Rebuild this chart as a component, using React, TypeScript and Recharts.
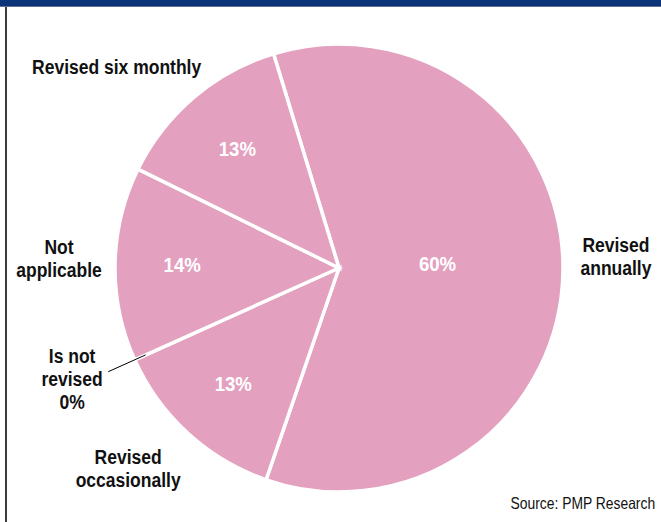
import { Cell, Pie, PieChart } from 'recharts';

const categories = [
  'Revised annually',
  'Revised occasionally',
  'Is not revised',
  'Not applicable',
  'Revised six monthly',
];
const shares = [60, 13, 0, 14, 13];
const valueLabels = ['60%', '13%', '0%', '14%', '13%'];
const displayNames = [
  ['Revised', 'annually'],
  ['Revised', 'occasionally'],
  ['Is not', 'revised'],
  ['Not', 'applicable'],
  ['Revised six monthly'],
];

const FONT = "'Liberation Sans', Arial, sans-serif";
const PINK = '#e3a0bf';
const RADIAN = Math.PI / 180;
// no narrow font available, so squeeze Liberation Sans horizontally
const SQUEEZE = 0.875;

// hand-tuned offsets so the outer labels sit where the original puts them
const nudge: Record<string, [number, number]> = {
  'Revised annually': [-9, -16],
  'Revised occasionally': [-18, -11],
  'Is not revised': [-6, -6],
  'Not applicable': [6, -5],
  'Revised six monthly': [-37, 17],
};

const pieData = categories.map((name, i) => ({
  name,
  value: shares[i],
  pct: valueLabels[i],
  lines: displayNames[i],
}));

function renderLabel(props: any) {
  const { cx, cy, midAngle, outerRadius, percent, payload, index } = props;
  const row = payload && payload.lines ? payload : pieData[index];
  const cos = Math.cos(-midAngle * RADIAN);
  const sin = Math.sin(-midAngle * RADIAN);
  const lh = 23;

  const outR = outerRadius + 62;
  const [nx, ny] = nudge[row.name] || [0, 0];
  const ox = cx + outR * cos + nx;
  const oy = cy + outR * sin + ny;
  const lines: string[] = row.value === 0 ? [...row.lines, row.pct] : row.lines;
  const y0 = oy - ((lines.length - 1) * lh) / 2 + 7;

  const big = percent > 0.5;
  const inR = big ? outerRadius * 0.44 : outerRadius * 0.7;
  const ix = cx + inR * cos;
  const iy = cy + inR * sin + (big ? -6 : 0);

  return (
    <g key={`lbl-${index}`}>
      {row.value > 0 && (
        <text
          transform={`translate(${ix},${iy + 7}) scale(0.93,1)`}
          x={0}
          y={0}
          textAnchor="middle"
          fill="#ffffff"
          fontFamily={FONT}
          fontWeight="bold"
          fontSize={20}
        >
          {row.pct}
        </text>
      )}
      {row.value === 0 && (
        <line
          x1={cx + (outerRadius - 12) * cos}
          y1={cy + (outerRadius - 12) * sin}
          x2={cx + (outerRadius + 29) * cos}
          y2={cy + (outerRadius + 29) * sin}
          stroke="#000"
          strokeWidth={1}
        />
      )}
      <text
        transform={`translate(${ox},${y0}) scale(${SQUEEZE},1)`}
        x={0}
        y={0}
        textAnchor="middle"
        fill="#111"
        fontFamily={FONT}
        fontWeight="bold"
        fontSize={20}
      >
        {lines.map((l, k) => (
          <tspan key={k} x={0} dy={k === 0 ? 0 : lh}>
            {l}
          </tspan>
        ))}
      </text>
    </g>
  );
}

export default function App() {
  return (
    <div
      style={{
        position: 'absolute',
        left: 0,
        top: 0,
        width: 661,
        height: 522,
        background: '#fff',
        overflow: 'hidden',
      }}
    >
      <div style={{ position: 'absolute', left: 0, top: 0, width: 661, height: 6, background: '#0a3379' }} />
      <div style={{ position: 'absolute', left: 0, top: 6, width: 661, height: 1, background: '#5b6f96' }} />
      <div style={{ position: 'absolute', left: 5, top: 7, width: 2, height: 515, background: '#3c3c3c' }} />
      <PieChart width={661} height={522} margin={{ top: 0, right: 0, bottom: 0, left: 0 }}>
        <Pie
          data={pieData}
          dataKey="value"
          nameKey="name"
          cx={339}
          cy={268}
          outerRadius={224}
          startAngle={107}
          endAngle={-253}
          stroke="#ffffff"
          strokeWidth={3.5}
          labelLine={false}
          label={renderLabel}
          isAnimationActive={false}
        >
          {pieData.map((d) => (
            <Cell key={d.name} fill={PINK} />
          ))}
        </Pie>
      </PieChart>
      <div
        style={{
          position: 'absolute',
          right: 6,
          top: 494,
          fontFamily: FONT,
          fontSize: 16.5,
          color: '#111',
          whiteSpace: 'nowrap',
          transform: 'scaleX(0.84)',
          transformOrigin: 'right center',
        }}
      >
        Source: PMP Research
      </div>
    </div>
  );
}
